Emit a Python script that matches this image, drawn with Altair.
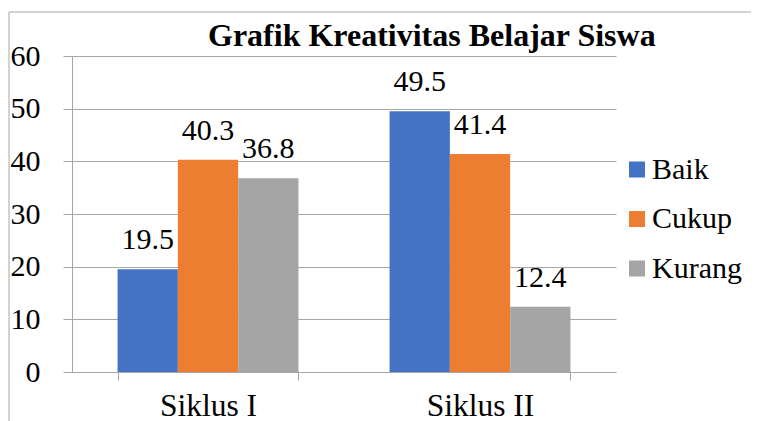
import altair as alt
import pandas as pd

cycles = ["Siklus I", "Siklus II"]
categories = ["Baik", "Cukup", "Kurang"]
values_s1 = [19.5, 40.3, 36.8]
values_s2 = [49.5, 41.4, 12.4]
colors = ["#4472C4", "#ED7D31", "#A5A5A5"]
y_ticks = [0, 10, 20, 30, 40, 50, 60]
title_text = "Grafik Kreativitas Belajar Siswa"

rows = []
for c, vals in zip(cycles, [values_s1, values_s2]):
    for k, v in zip(categories, vals):
        rows.append({"siklus": c, "kategori": k, "nilai": v})
df = pd.DataFrame(rows)

FONT = "Liberation Serif"
GRID = "#a6a6a6"

base = alt.Chart(df).encode(
    x=alt.X("siklus:N", sort=cycles,
            scale=alt.Scale(paddingInner=0.335, paddingOuter=0.1675),
            axis=alt.Axis(title=None, labelAngle=0, tickBand="extent", grid=False,
                          domainColor=GRID, tickColor=GRID, tickSize=8,
                          labelFont=FONT, labelFontSize=31.5, labelColor="black",
                          labelBaseline="alphabetic", labelPadding=35)),
    xOffset=alt.XOffset("kategori:N", sort=categories,
                        scale=alt.Scale(paddingInner=0, paddingOuter=0)),
)

bars = base.mark_bar().encode(
    y=alt.Y("nilai:Q", scale=alt.Scale(domain=[0, 60], nice=False),
            axis=alt.Axis(title=None, values=y_ticks, grid=True, gridColor=GRID,
                          domainColor=GRID, tickColor=GRID, tickSize=9,
                          labelFont=FONT, labelFontSize=30, labelColor="black",
                          labelPadding=23, labelBaseline="middle", labelFlush=False)),
    color=alt.Color("kategori:N", sort=categories,
                    scale=alt.Scale(domain=categories, range=colors),
                    legend=alt.Legend(title=None, orient="none", legendX=550, legendY=98.5,
                                      symbolType="square", symbolSize=256,
                                      symbolStrokeWidth=0, labelFont=FONT,
                                      labelFontSize=30, labelColor="black",
                                      labelOffset=0, rowPadding=19.5, padding=0)),
)

labels = base.mark_text(font=FONT, fontSize=30, color="black",
                        baseline="alphabetic", dy=-20).encode(
    y=alt.Y("nilai:Q"),
    text=alt.Text("nilai:Q", format=".1f"),
)

one = alt.Data(values=[{}])
border_top = alt.Chart(one).mark_rule(color=GRID, strokeWidth=1).encode(
    x=alt.value(-63), x2=alt.value(700), y=alt.value(-44))
border_left = alt.Chart(one).mark_rule(color=GRID, strokeWidth=1).encode(
    x=alt.value(-63), y=alt.value(-44), y2=alt.value(420))

chart = alt.layer(border_top, border_left, bars, labels).properties(
    width=544, height=316,
    title=alt.TitleParams(title_text, font=FONT, fontSize=32, fontWeight="bold",
                          color="black", anchor="start", frame="group", dx=136,
                          offset=-41),
    autosize=alt.AutoSizeParams(type="none"),
    padding={"left": 64, "top": 48, "right": 135, "bottom": 49},
).configure_view(stroke=None)

chart.save("out.html", embed_options={"renderer": "svg", "actions": False})
